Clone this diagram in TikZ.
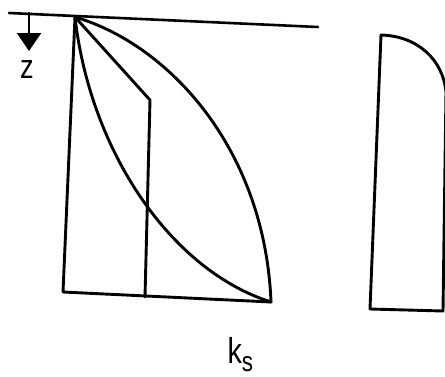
\documentclass[tikz,border=0pt]{standalone}
\usepackage{fontspec}
\setsansfont{Liberation Sans}
\usepackage{tikz}
\usetikzlibrary{arrows.meta}

\begin{document}
\begin{tikzpicture}[x=1pt, y=-1pt, line cap=round, line join=round]
    \useasboundingbox (0,0) rectangle (445,376);
    % Key points of the profile
    \coordinate (O) at (75,17);
    \coordinate (L) at (63,292);
    \coordinate (K) at (150,100);
    \coordinate (M) at (145,297);
    \coordinate (R) at (271,302);
    
    % Surface line and depth arrow
    \draw[line width=2.6pt] (9,13) -- (318,27);
    \draw[line width=2.2pt, -{Triangle[width=24pt,length=18pt]}] (29,13) -- (29,51);
    \node[font=\sffamily\fontsize{34}{34}\selectfont] (z) at (27,70) {\scalebox{0.8}[1]{z}};
    
    % Outline and the three distributions
    \draw[line width=2.9pt] (O) -- (L) -- (R);
    \draw[line width=2.9pt] (O) -- (K) -- (M);
    \draw[line width=2.9pt] (O) .. controls (90,150) and (170,270) .. (R);
    \draw[line width=2.9pt] (O) .. controls (170,45) and (265,150) .. (R);
    
    % Second profile on the right
    \draw[line width=2.9pt] (381,35) .. controls (418,36) and (443,60) .. (446,92)
        -- (443,311) -- (370,309) -- cycle;
    
    \node[font=\sffamily\fontsize{36}{36}\selectfont, anchor=base west] (ks) at (224,363)
        {\scalebox{0.8}[1]{k}\raisebox{-8pt}{\fontsize{28}{28}\selectfont\scalebox{0.8}[1]{s}}};
\end{tikzpicture}
\end{document}
